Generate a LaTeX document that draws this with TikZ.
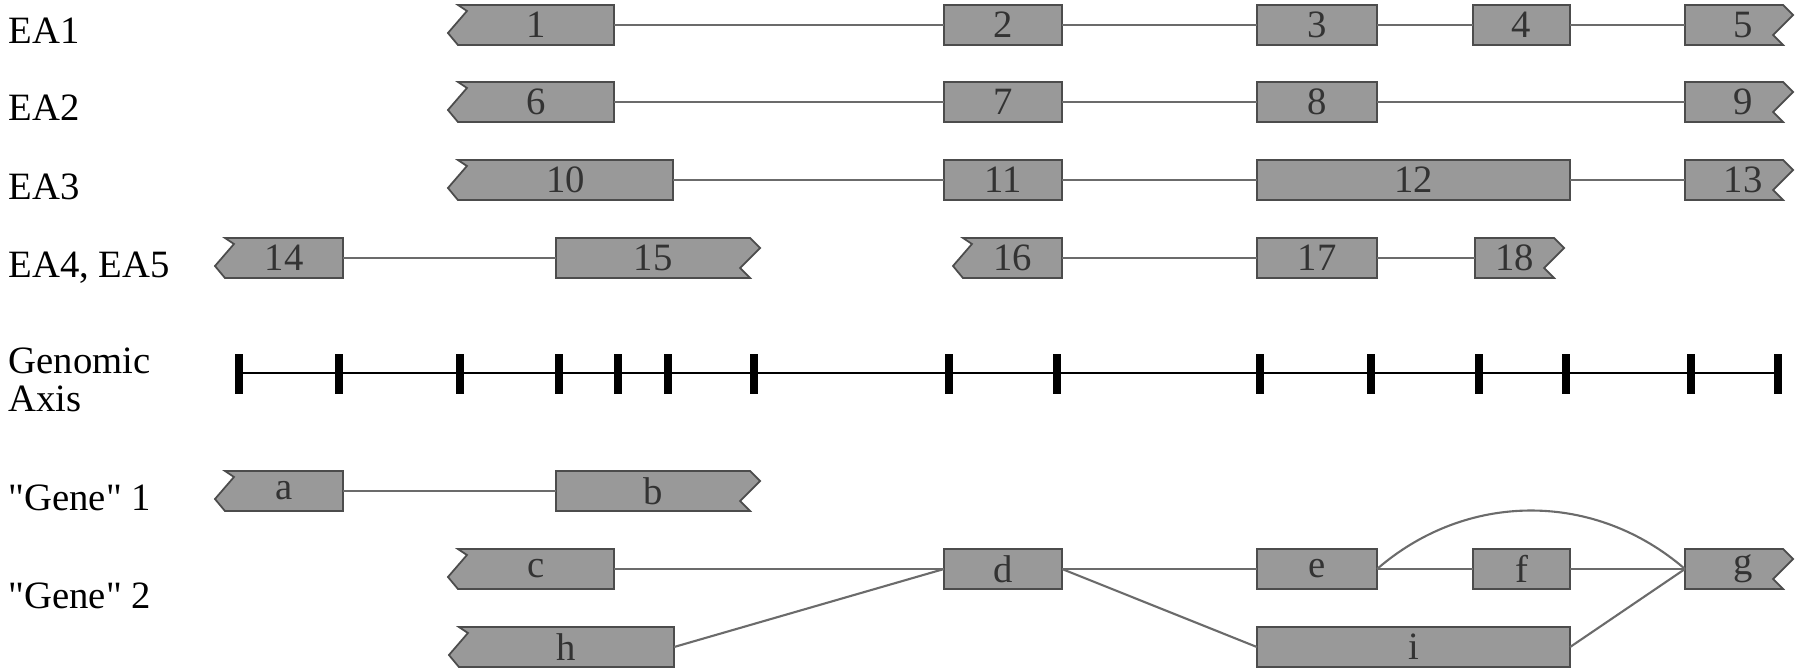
\documentclass[tikz,border=0pt]{standalone}
\usepackage{fontspec}
\setmainfont{Liberation Serif}
\usetikzlibrary{backgrounds}

\definecolor{exonfill}{gray}{0.6}
\definecolor{exonedge}{gray}{0.3}
\definecolor{introngray}{gray}{0.42}
\definecolor{exontext}{gray}{0.2}

\tikzset{
  exon/.style={minimum height=0.4cm,inner sep=0pt,outer sep=0pt,text=exontext,font=\fontsize{11}{11}\selectfont},
  box/.style={exon,draw=exonedge,fill=exonfill,line width=0.5pt},
  cut/.style={draw=exonedge,fill=exonfill,line width=0.5pt},
  endlabel/.style={execute at begin node={\hspace*{0.18cm}}},
  intron/.style={draw=introngray,line width=0.6pt},
  rowlabel/.style={anchor=base west,inner sep=0pt,font=\fontsize{11}{10.8}\selectfont},
  axistick/.style={line width=2.3pt},
}
% ragged exon ends (left / right)
\newcommand{\cutW}[1]{\path[cut] (#1.north west) -- ++(9,6) -- ++(-19,22) -- (#1.south west) -- (#1.south east) -- (#1.north east) -- cycle;}
\newcommand{\cutE}[1]{\path[cut] (#1.north east) -- ++(10,10) -- ++(-20,20) -- (#1.south east) -- (#1.south west) -- (#1.north west) -- cycle;}

\begin{document}
\begin{tikzpicture}[x=0.01cm,y=-0.01cm]
  \useasboundingbox (0,0) rectangle (1800,669);

  % row labels
  \node[rowlabel] (lea1) at (8,43) {EA1};
  \node[rowlabel] (lea2) at (8,120) {EA2};
  \node[rowlabel] (lea3) at (8,199) {EA3};
  \node[rowlabel] (lea4) at (8,277) {EA4, EA5};
  \node[rowlabel,anchor=west,align=left] (laxis) at (8,380) {Genomic\\Axis};
  \node[rowlabel] (lg1) at (8,510) {\textquotedbl Gene\textquotedbl{} 1};
  \node[rowlabel] (lg2) at (8,608) {\textquotedbl Gene\textquotedbl{} 2};

  % EA1
  \node[exon,minimum width=1.56cm] (n1) at (536,25) {1};
  \node[box,minimum width=1.18cm] (n2) at (1003,25) {2};
  \node[box,minimum width=1.20cm] (n3) at (1317,25) {3};
  \node[box,minimum width=0.97cm] (n4) at (1521.5,25) {4};
  \node[exon,endlabel,minimum width=0.98cm] (n5) at (1734,25) {5};
  % EA2
  \node[exon,minimum width=1.56cm] (n6) at (536,102) {6};
  \node[box,minimum width=1.18cm] (n7) at (1003,102) {7};
  \node[box,minimum width=1.20cm] (n8) at (1317,102) {8};
  \node[exon,endlabel,minimum width=0.98cm] (n9) at (1734,102) {9};
  % EA3
  \node[exon,minimum width=2.15cm] (n10) at (565.5,180) {10};
  \node[box,minimum width=1.18cm] (n11) at (1003,180) {11};
  \node[box,minimum width=3.13cm] (n12) at (1413.5,180) {12};
  \node[exon,endlabel,minimum width=0.98cm] (n13) at (1734,180) {13};
  % EA4, EA5
  \node[exon,minimum width=1.18cm] (n14) at (284,258) {14};
  \node[exon,minimum width=1.94cm] (n15) at (653,258) {15};
  \node[exon,minimum width=0.99cm] (n16) at (1012.5,258) {16};
  \node[box,minimum width=1.20cm] (n17) at (1317,258) {17};
  \node[exon,minimum width=0.79cm] (n18) at (1514.5,258) {18};

  % genomic axis
  \draw[line width=0.6pt] (239,373) -- (1778,373);
  \foreach \t in {239,339,460,559,618,668,754,949,1057,1260,1371,1479,1566,1691,1778}
    \draw[axistick] (\t,354) -- (\t,394);

  % "Gene" 1
  \node[exon,minimum width=1.18cm] (ga) at (284,491) {a};
  \node[exon,minimum width=1.94cm] (gb) at (653,491) {b};
  % "Gene" 2
  \node[exon,minimum width=1.56cm] (gc) at (536,569) {c};
  \node[box,minimum width=1.18cm] (gd) at (1003,569) {d};
  \node[box,minimum width=1.20cm] (ge) at (1317,569) {e};
  \node[box,minimum width=0.97cm] (gf) at (1521.5,569) {f};
  \node[exon,endlabel,minimum width=0.98cm] (gg) at (1734,569) {g};
  \node[exon,minimum width=2.15cm] (gh) at (566.5,647) {h};
  \node[box,minimum width=3.13cm] (gi) at (1413.5,647) {i};

  \begin{scope}[on background layer]
    \foreach \n in {n1,n6,n10,n14,n16,ga,gc,gh} {\cutW{\n}}
    \foreach \n in {n5,n9,n13,n15,n18,gb,gg} {\cutE{\n}}
  \end{scope}

  % introns
  \draw[intron] (n1) -- (n2) (n2) -- (n3) (n3) -- (n4) (n4) -- (n5);
  \draw[intron] (n6) -- (n7) (n7) -- (n8) (n8) -- (n9);
  \draw[intron] (n10) -- (n11) (n11) -- (n12) (n12) -- (n13);
  \draw[intron] (n14) -- (n15) (n16) -- (n17) (n17) -- (n18);
  \draw[intron] (ga) -- (gb);
  \draw[intron] (gc) -- (gd) (gd) -- (ge) (ge) -- (gf) (gf) -- (gg);
  \draw[intron] (gh.east) -- (gd.west);
  \draw[intron] (gd.east) -- (gi.west);
  \draw[intron] (gi.east) -- (gg.west);
  \draw[intron] (ge.east) .. controls +(90,-78) and +(-90,-78) .. (gg.west);
\end{tikzpicture}
\end{document}
